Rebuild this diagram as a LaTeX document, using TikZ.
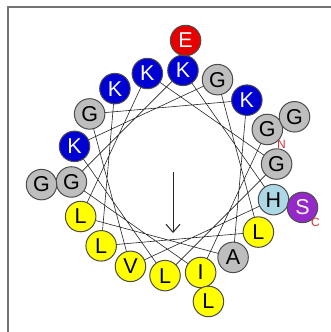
\documentclass[tikz,border=0pt]{standalone}
\usepackage{fontspec}
\setmainfont{Liberation Sans}
\usetikzlibrary{arrows.meta,backgrounds}
\definecolor{kblue}{RGB}{0,0,210}
\definecolor{gfill}{RGB}{190,190,190}
\definecolor{yfill}{RGB}{255,255,0}
\definecolor{hfill}{RGB}{173,216,230}
\definecolor{sfill}{RGB}{148,40,200}
\definecolor{efill}{RGB}{230,0,0}
\definecolor{tred}{RGB}{215,50,50}
\begin{document}
\begin{tikzpicture}[x=1pt,y=-1pt,
  res/.style={circle,draw=black!70,line width=1pt,minimum size=30.5pt,inner sep=0pt,font=\fontsize{21.5}{21.5}\selectfont},
  gres/.style={res,fill=gfill,text=black},
  kres/.style={res,fill=kblue,text=white},
  yres/.style={res,fill=yfill,text=black},
  hres/.style={res,fill=hfill,text=black},
  sres/.style={res,fill=sfill,text=white!90!pink},
  eres/.style={res,fill=efill,text=white},
  wire/.style={draw=black!85,line width=0.6pt},
  term/.style={text=tred,font=\fontsize{12}{12}\selectfont,inner sep=0pt}]
\useasboundingbox (0,0) rectangle (331,332);
\draw[draw=black!55,line width=1.5pt] (8,332) -- (8,7) -- (331,7);
% inner ring (radius 103)
\node[gres] (r1)  at ({174+103*cos(25)},{173-103*sin(25)}) {G};
\node[yres] (r2)  at ({174+103*cos(-75)},{173-103*sin(-75)}) {I};
\node[gres] (r3)  at ({174+103*cos(-175)},{173-103*sin(-175)}) {G};
\node[kres] (r4)  at ({174+103*cos(85)},{173-103*sin(85)}) {K};
\node[hres] (r5)  at ({174+103*cos(-15)},{173-103*sin(-15)}) {H};
\node[yres] (r6)  at ({174+103*cos(-115)},{173-103*sin(-115)}) {V};
\node[gres] (r7)  at ({174+103*cos(145)},{173-103*sin(145)}) {G};
\node[kres] (r8)  at ({174+103*cos(45)},{173-103*sin(45)}) {K};
\node[gres] (r9)  at ({174+103*cos(-55)},{173-103*sin(-55)}) {A};
\node[yres] (r10) at ({174+103*cos(-155)},{173-103*sin(-155)}) {L};
\node[kres] (r11) at ({174+103*cos(105)},{173-103*sin(105)}) {K};
\node[gres] (r12) at ({174+103*cos(5)},{173-103*sin(5)}) {G};
\node[yres] (r13) at ({174+103*cos(-95)},{173-103*sin(-95)}) {L};
\node[kres] (r14) at ({174+103*cos(165)},{173-103*sin(165)}) {K};
\node[gres] (r15) at ({174+103*cos(65)},{173-103*sin(65)}) {G};
\node[yres] (r16) at ({174+103*cos(-35)},{173-103*sin(-35)}) {L};
\node[yres] (r17) at ({174+103*cos(-135)},{173-103*sin(-135)}) {L};
\node[kres] (r18) at ({174+103*cos(125)},{173-103*sin(125)}) {K};
% outer ring (radius 133)
\node[gres] (r19) at ({174+133*cos(25)},{173-133*sin(25)}) {G};
\node[yres] (r20) at ({174+133*cos(-75)},{173-133*sin(-75)}) {L};
\node[gres] (r21) at ({174+133*cos(-175)},{173-133*sin(-175)}) {G};
\node[eres] (r22) at ({174+133*cos(85)},{173-133*sin(85)}) {E};
\node[sres] (r23) at ({174+133*cos(-15)},{173-133*sin(-15)}) {S};
% terminal labels
\node[term] (nlab) at ([xshift=14pt,yshift=-15pt]r1.center) {N};
\node[term] (clab) at ([xshift=13pt,yshift=-15pt]r23.center) {C};
% connectors
\begin{scope}[on background layer]
\draw[wire] (r1.center) -- (r2.center) -- (r3.center) -- (r4.center) -- (r5.center) -- (r6.center)
  -- (r7.center) -- (r8.center) -- (r9.center) -- (r10.center) -- (r11.center) -- (r12.center)
  -- (r13.center) -- (r14.center) -- (r15.center) -- (r16.center) -- (r17.center) -- (r18.center);
\end{scope}
% moment arrow
\coordinate (mstart) at (173,172);
\coordinate (mend) at (173,233);
\draw[draw=black!85,line width=1pt,-{Straight Barb[length=8pt,width=14pt]}] (mstart) -- (mend);
\end{tikzpicture}
\end{document}
